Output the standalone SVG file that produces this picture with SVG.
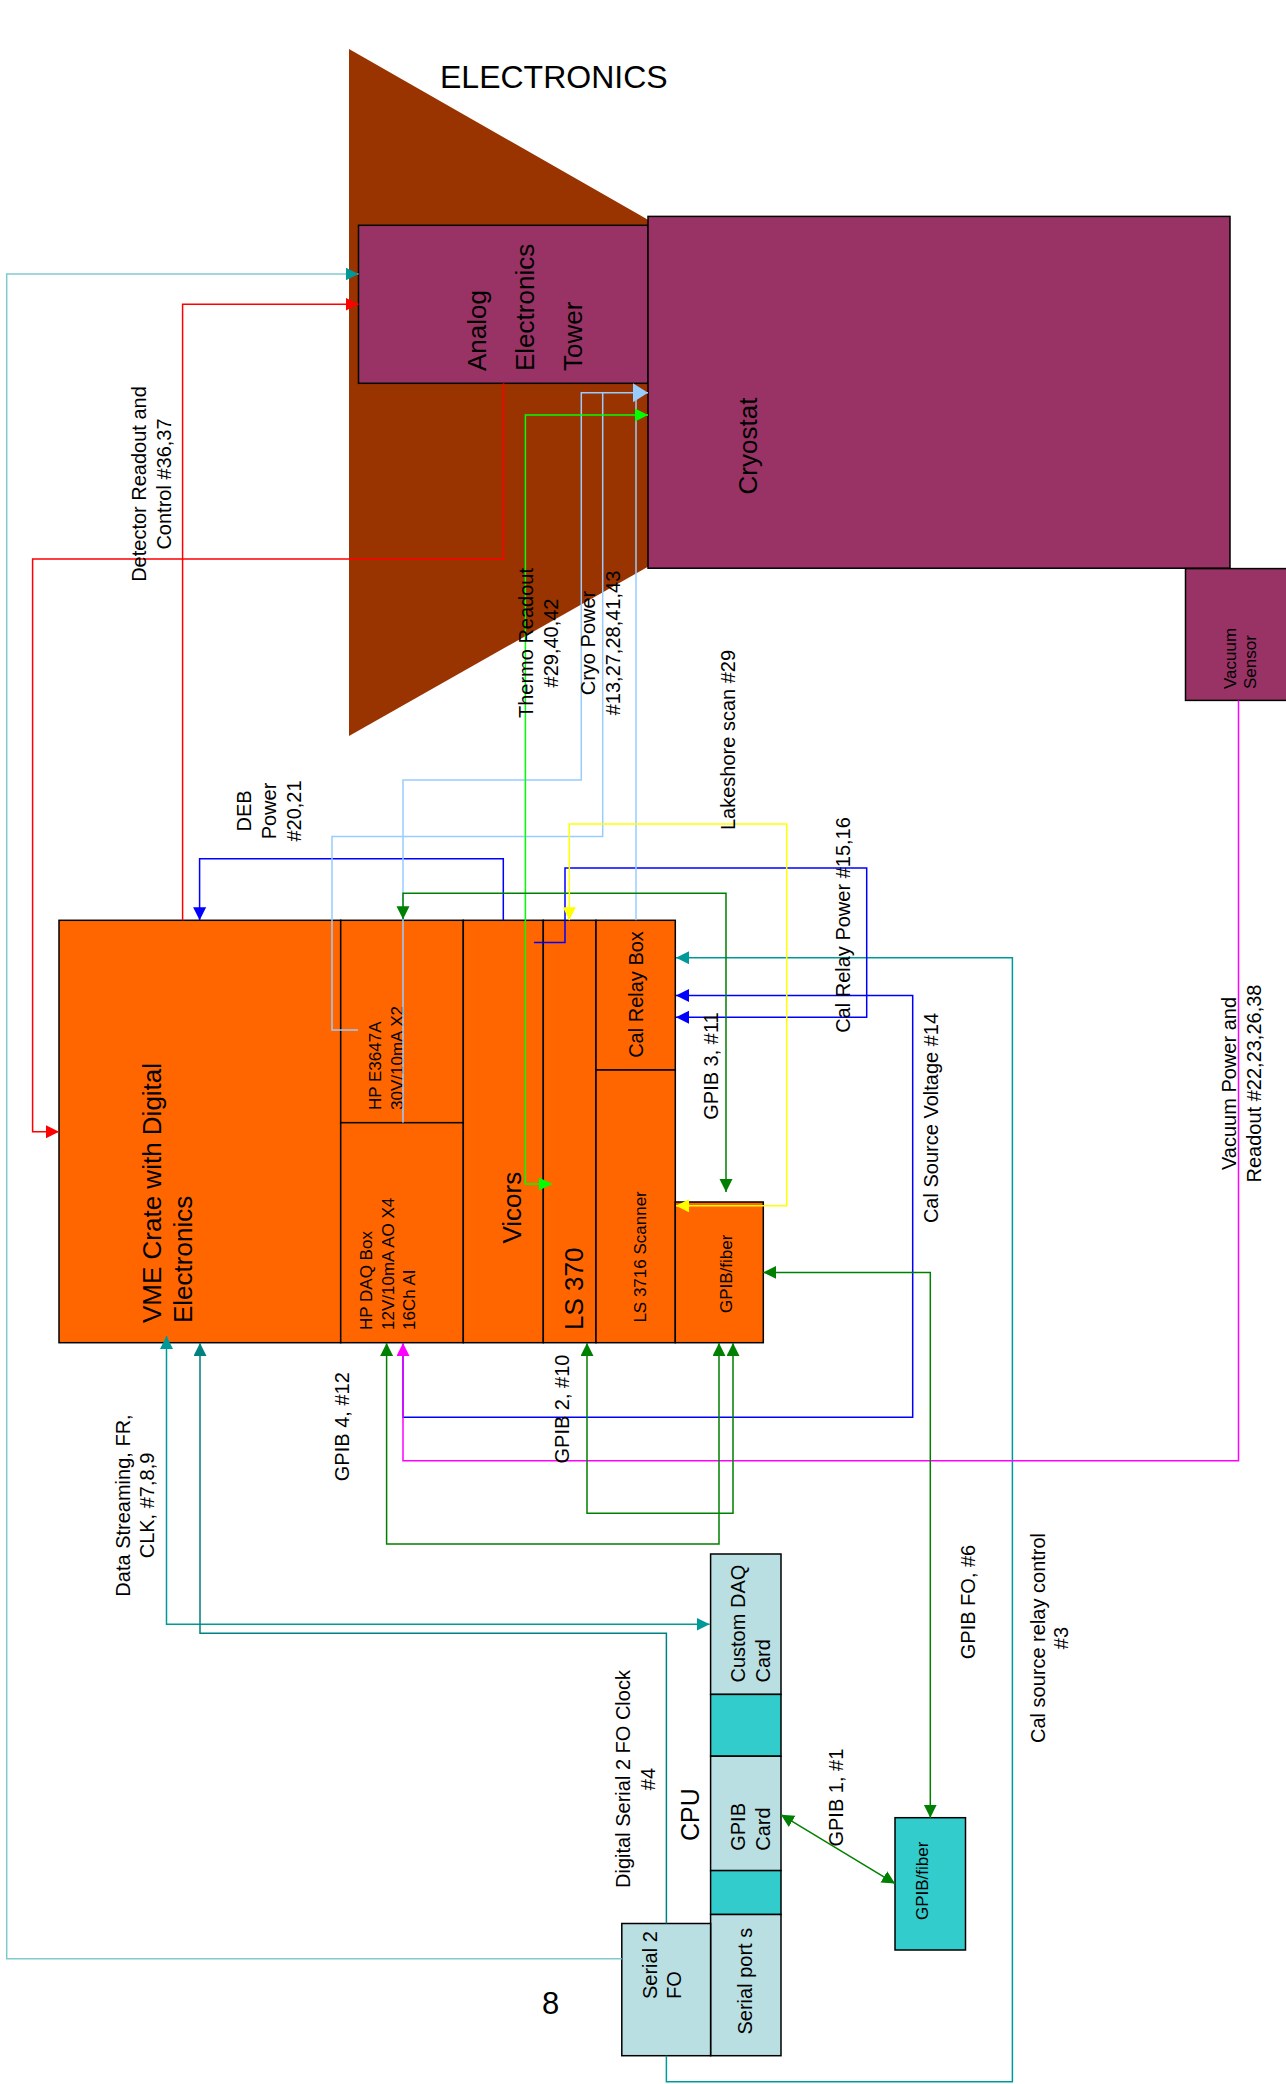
<svg xmlns="http://www.w3.org/2000/svg" width="1286" height="2084" viewBox="0 0 1286 2084">
  <style>
    text { font-family: "Liberation Sans", Arial, sans-serif; fill: #000; }
    .box { stroke: #000; stroke-width: 1.5; }
    .plum { fill: #993366; }
    .orange { fill: #FF6600; }
    .pale { fill: #BADFE2; }
    .aqua { fill: #33CCCC; }
    .wire { fill: none; stroke-width: 1.5; }
    .f17 { font-size: 17px; }
    .f20 { font-size: 20px; }
    .f26 { font-size: 26px; }
  </style>
  <defs>
    <marker id="a-teal" markerUnits="userSpaceOnUse" markerWidth="14" markerHeight="14" refX="13" refY="6.5" orient="auto-start-reverse"><path d="M0,0 L13,6.5 L0,13 z" fill="#009999"/></marker>
    <marker id="a-dteal" markerUnits="userSpaceOnUse" markerWidth="14" markerHeight="14" refX="13" refY="6.5" orient="auto-start-reverse"><path d="M0,0 L13,6.5 L0,13 z" fill="#008080"/></marker>
    <marker id="a-red" markerUnits="userSpaceOnUse" markerWidth="14" markerHeight="14" refX="13" refY="6.5" orient="auto-start-reverse"><path d="M0,0 L13,6.5 L0,13 z" fill="#FF0000"/></marker>
    <marker id="a-blue" markerUnits="userSpaceOnUse" markerWidth="14" markerHeight="14" refX="13" refY="6.5" orient="auto-start-reverse"><path d="M0,0 L13,6.5 L0,13 z" fill="#0000FF"/></marker>
    <marker id="a-sky" markerUnits="userSpaceOnUse" markerWidth="16" markerHeight="20" refX="15" refY="9.5" orient="auto-start-reverse"><path d="M0,0 L15,9.5 L0,19 z" fill="#99CCFF"/></marker>
    <marker id="a-lime" markerUnits="userSpaceOnUse" markerWidth="14" markerHeight="14" refX="13" refY="6.5" orient="auto-start-reverse"><path d="M0,0 L13,6.5 L0,13 z" fill="#00FF00"/></marker>
    <marker id="a-green" markerUnits="userSpaceOnUse" markerWidth="14" markerHeight="14" refX="13" refY="6.5" orient="auto-start-reverse"><path d="M0,0 L13,6.5 L0,13 z" fill="#008000"/></marker>
    <marker id="a-yellow" markerUnits="userSpaceOnUse" markerWidth="14" markerHeight="14" refX="13" refY="6.5" orient="auto-start-reverse"><path d="M0,0 L13,6.5 L0,13 z" fill="#FFFF00"/></marker>
    <marker id="a-magenta" markerUnits="userSpaceOnUse" markerWidth="14" markerHeight="14" refX="13" refY="6.5" orient="auto-start-reverse"><path d="M0,0 L13,6.5 L0,13 z" fill="#FF00FF"/></marker>
  </defs>

  <rect width="1286" height="2084" fill="#FFFFFF"/>

  <!-- electronics rack area -->
  <g id="electronics-area">
    <polygon points="349,49 349,736 953,394" fill="#993300"/>
    <text x="440" y="88" style="font-size:32px">ELECTRONICS</text>
  </g>

  <g id="analog-tower">
    <rect class="box plum" x="358.5" y="225.3" width="289.5" height="158"/>
    <g class="f26">
      <text transform="translate(486,371) rotate(-90)">Analog</text>
      <text transform="translate(534,371) rotate(-90)">Electronics</text>
      <text transform="translate(582,371) rotate(-90)">Tower</text>
    </g>
  </g>

  <g id="cryostat">
    <rect class="box plum" x="648" y="216.4" width="582" height="351.8"/>
    <text class="f26" text-anchor="middle" transform="translate(757,446) rotate(-90)">Cryostat</text>
  </g>

  <g id="vacuum-sensor">
    <rect class="box plum" x="1185.5" y="568.6" width="110" height="131.8"/>
    <g class="f17">
      <text transform="translate(1236,689) rotate(-90)">Vacuum</text>
      <text transform="translate(1256,689) rotate(-90)">Sensor</text>
    </g>
  </g>

  <g id="vme-crate">
    <rect class="box orange" x="59" y="920.3" width="281.7" height="422.4"/>
    <g class="f26">
      <text transform="translate(161,1323) rotate(-90)">VME Crate with Digital</text>
      <text transform="translate(192,1323) rotate(-90)">Electronics</text>
    </g>
  </g>

  <g id="hp-e3647a">
    <rect class="box orange" x="340.7" y="920.3" width="122.6" height="202.4"/>
    <g class="f17">
      <text transform="translate(381,1110) rotate(-90)">HP E3647A</text>
      <text transform="translate(403,1110) rotate(-90)">30V/10mA X2</text>
    </g>
  </g>

  <g id="hp-daq-box">
    <rect class="box orange" x="340.7" y="1122.7" width="122.6" height="220"/>
    <g class="f17">
      <text transform="translate(372,1330) rotate(-90)">HP DAQ Box</text>
      <text transform="translate(393.5,1330) rotate(-90)">12V/10mA AO X4</text>
      <text transform="translate(414.5,1330) rotate(-90)">16Ch AI</text>
    </g>
  </g>

  <g id="vicors">
    <rect class="box orange" x="463.3" y="920.3" width="80" height="422.4"/>
    <text class="f26" text-anchor="middle" transform="translate(521,1207.7) rotate(-90)">Vicors</text>
  </g>

  <g id="ls-370">
    <rect class="box orange" x="543.3" y="920.3" width="52.7" height="422.4"/>
    <text class="f26" transform="translate(583,1330) rotate(-90)">LS 370</text>
  </g>

  <g id="cal-relay-box">
    <rect class="box orange" x="596" y="920.3" width="79.3" height="149.7"/>
    <text class="f20" text-anchor="middle" transform="translate(643,994.5) rotate(-90)">Cal Relay Box</text>
  </g>

  <g id="ls-3716-scanner">
    <rect class="box orange" x="596" y="1070" width="79.3" height="272.7"/>
    <text class="f17" transform="translate(646,1322.6) rotate(-90)">LS 3716 Scanner</text>
  </g>

  <g id="gpib-fiber-rack">
    <rect class="box orange" x="675.3" y="1202" width="88" height="140.7"/>
    <text class="f17" transform="translate(732,1313) rotate(-90)">GPIB/fiber</text>
  </g>

  <g id="cpu">
    <text transform="translate(699,1814.7) rotate(-90)" text-anchor="middle" style="font-size:25px">CPU</text>
  </g>

  <g id="custom-daq-card">
    <rect class="box pale" x="710.6" y="1554" width="70.4" height="140.4"/>
    <g class="f20">
      <text transform="translate(745,1682.5) rotate(-90)">Custom DAQ</text>
      <text transform="translate(770,1682.5) rotate(-90)">Card</text>
    </g>
  </g>

  <g id="cpu-slot-1">
    <rect class="box aqua" x="710.6" y="1694.4" width="70.4" height="61.8"/>
  </g>

  <g id="gpib-card">
    <rect class="box pale" x="710.6" y="1756.2" width="70.4" height="114.4"/>
    <g class="f20">
      <text transform="translate(745,1850.8) rotate(-90)">GPIB</text>
      <text transform="translate(770,1850.8) rotate(-90)">Card</text>
    </g>
  </g>

  <g id="cpu-slot-2">
    <rect class="box aqua" x="710.6" y="1870.6" width="70.4" height="43.9"/>
  </g>

  <g id="serial-ports">
    <rect class="box pale" x="710.6" y="1914.5" width="70.4" height="141.2"/>
    <text class="f20" transform="translate(752,2034.5) rotate(-90)">Serial port s</text>
  </g>

  <g id="serial-2-fo">
    <rect class="box pale" x="621.8" y="1923.5" width="88.8" height="132.2"/>
    <g class="f20">
      <text transform="translate(657,1999) rotate(-90)">Serial 2</text>
      <text transform="translate(681,1999) rotate(-90)">FO</text>
    </g>
  </g>

  <g id="gpib-fiber-cpu">
    <rect class="box aqua" x="895" y="1817.7" width="70.5" height="132.3"/>
    <text class="f17" transform="translate(928,1920) rotate(-90)">GPIB/fiber</text>
  </g>

  <!-- cabling between units -->
  <g id="connectors">
    <path class="wire" stroke="#7FCBCB" stroke-width="2" d="M621.8,1958.7 H6.7 V274 H358.5" marker-end="url(#a-teal)"/>
    <path class="wire" stroke="#009999" d="M166.5,1336 V1624.3 H709.6" marker-start="url(#a-teal)" marker-end="url(#a-teal)"/>
    <path class="wire" stroke="#008080" d="M200,1343 V1633.3 H666.4 V1923.5" marker-start="url(#a-dteal)"/>
    <path class="wire" stroke="#009999" d="M666.4,2055.7 V2081.8 H1012.4 V957.7 H676" marker-end="url(#a-teal)"/>

    <path class="wire" stroke="#FF0000" d="M503.6,383.3 V559 H32.6 V1131.7 H59" marker-end="url(#a-red)"/>
    <path class="wire" stroke="#FF0000" d="M182.6,920.3 V304.3 H358.5" marker-end="url(#a-red)"/>

    <path class="wire" stroke="#0000FF" d="M503.3,920.3 V858.7 H199.6 V920.3" marker-end="url(#a-blue)"/>
    <path class="wire" stroke="#0000FF" d="M534,942.5 H565 V867.9 H866.7 V1017.2 H676" marker-end="url(#a-blue)"/>
    <path class="wire" stroke="#0000FF" d="M403,1343 V1417.3 H912.7 V995.5 H676" marker-end="url(#a-blue)"/>

    <path class="wire" stroke="#99CCFF" d="M403,1122.7 V780 H581.3 V392.7 H648" marker-end="url(#a-sky)"/>
    <path class="wire" stroke="#99CCFF" d="M358,1030 H332 V836.6 H602.7 V392.7"/>
    <path class="wire" stroke="#99CCFF" d="M636,920.3 V392.7"/>

    <path class="wire" stroke="#00FF00" d="M552,1184 H525.4 V415 H648" marker-start="url(#a-lime)" marker-end="url(#a-lime)"/>
    <path class="wire" stroke="#008000" d="M403,919.3 V893.3 H726 V1192" marker-start="url(#a-green)" marker-end="url(#a-green)"/>
    <path class="wire" stroke="#FFFF00" d="M569.3,920.3 V823.9 H786.7 V1205.8 H676" marker-start="url(#a-yellow)" marker-end="url(#a-yellow)"/>

    <path class="wire" stroke="#FF00FF" d="M1238.5,700.4 V1460.8 H403 V1343" marker-end="url(#a-magenta)"/>

    <path class="wire" stroke="#008000" d="M763.3,1272.4 H930.3 V1817.7" marker-start="url(#a-green)" marker-end="url(#a-green)"/>
    <path class="wire" stroke="#008000" d="M587,1343 V1513.3 H733 V1343" marker-start="url(#a-green)" marker-end="url(#a-green)"/>
    <path class="wire" stroke="#008000" d="M386.6,1343 V1544 H719 V1343" marker-start="url(#a-green)" marker-end="url(#a-green)"/>
    <path class="wire" stroke="#008000" d="M781,1814.7 L895,1883.6" marker-start="url(#a-green)" marker-end="url(#a-green)"/>
  </g>

  <!-- cable labels -->
  <g id="cable-labels" class="f20" text-anchor="middle">
    <text transform="translate(146,484) rotate(-90)">Detector Readout and</text>
    <text transform="translate(171,484) rotate(-90)">Control #36,37</text>
    <text transform="translate(533,643) rotate(-90)">Thermo Readout</text>
    <text transform="translate(558,643) rotate(-90)">#29,40,42</text>
    <text transform="translate(595,643) rotate(-90)">Cryo Power</text>
    <text transform="translate(620,643) rotate(-90)">#13,27,28,41,43</text>
    <text transform="translate(735,740) rotate(-90)">Lakeshore scan #29</text>
    <text transform="translate(251,811) rotate(-90)">DEB</text>
    <text transform="translate(276,811) rotate(-90)">Power</text>
    <text transform="translate(301,811) rotate(-90)">#20,21</text>
    <text transform="translate(850,925) rotate(-90)">Cal Relay Power #15,16</text>
    <text transform="translate(718,1066) rotate(-90)">GPIB 3, #11</text>
    <text transform="translate(938,1118) rotate(-90)">Cal Source Voltage #14</text>
    <text transform="translate(1236,1083.5) rotate(-90)">Vacuum Power and</text>
    <text transform="translate(1261,1083.5) rotate(-90)">Readout #22,23,26,38</text>
    <text transform="translate(130,1505.5) rotate(-90)">Data Streaming, FR,</text>
    <text transform="translate(154,1505.5) rotate(-90)">CLK, #7,8,9</text>
    <text transform="translate(349,1426.7) rotate(-90)">GPIB 4, #12</text>
    <text transform="translate(569,1409) rotate(-90)">GPIB 2, #10</text>
    <text transform="translate(630,1779) rotate(-90)">Digital Serial 2 FO Clock</text>
    <text transform="translate(655,1779) rotate(-90)">#4</text>
    <text transform="translate(843,1797.6) rotate(-90)">GPIB 1, #1</text>
    <text transform="translate(975,1602) rotate(-90)">GPIB FO, #6</text>
    <text transform="translate(1045,1638) rotate(-90)">Cal source relay control</text>
    <text transform="translate(1068,1638) rotate(-90)">#3</text>
  </g>

  <text x="542" y="2014" style="font-size:31px">8</text>
</svg>
